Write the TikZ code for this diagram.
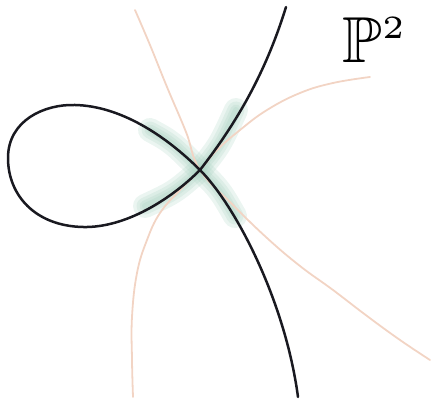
\documentclass[tikz,border=0pt]{standalone}
\usepackage{amsmath,amssymb}
\usepackage{graphicx}
\usepackage{xcolor}

\definecolor{cubicblack}{RGB}{25,25,32}
\definecolor{conicorange}{RGB}{242,212,196}
\definecolor{blowgreen}{RGB}{165,208,190}

\begin{document}
\begin{tikzpicture}[x=1pt, y=-1pt, line cap=round, line join=round,
    cubic/.style={cubicblack, line width=2.5pt},
    conic/.style={conicorange, line width=1.8pt},
    smudge/.style={blowgreen, line width=#1, opacity=0.22}]

    \useasboundingbox (0,0) rectangle (434,406);

    % Double point
    \coordinate (node) at (200,170);

    % Green smudge on the two branches
    \foreach \w in {24pt,17pt,11pt,6pt}{
        \draw[smudge=\w] (150,130) .. controls (172,142) .. (node)
            .. controls (220,190) .. (235,216);
        \draw[smudge=\w] (145,206) .. controls (175,192) .. (node)
            .. controls (220,145) .. (236,110);
    }

    % Conics through the node (faint)
    \draw[conic] plot[smooth, tension=0.7] coordinates {
        (135,10) (150,45) (167,87) (186,132) (node) (233,205)
        (267,238) (300,266) (333,290) (367,316) (400,340) (430,360)
    };
    \draw[conic] plot[smooth, tension=0.7] coordinates {
        (370,77) (333,83) (300,93) (267,110) (240,130) (217,150)
        (node) (180,190) (160,213) (147,240) (137,273) (132,317)
        (132,360) (133,397)
    };

    % Nodal cubic
    \draw[cubic] (286,7) .. controls (265,75) and (235,125) .. (node)
        .. controls (170,200) and (125,228) .. (83,227)
        .. controls (35,226) and (8,195) .. (8,158)
        .. controls (8,120) and (45,104) .. (75,105)
        .. controls (120,106) and (165,135) .. (node)
        .. controls (235,205) and (285,300) .. (298,397);

    % Label
    \node (plane) at (375,40) {\scalebox{6.5}{$\mathbb{P}^{\scriptscriptstyle 2}$}};

\end{tikzpicture}
\end{document}
